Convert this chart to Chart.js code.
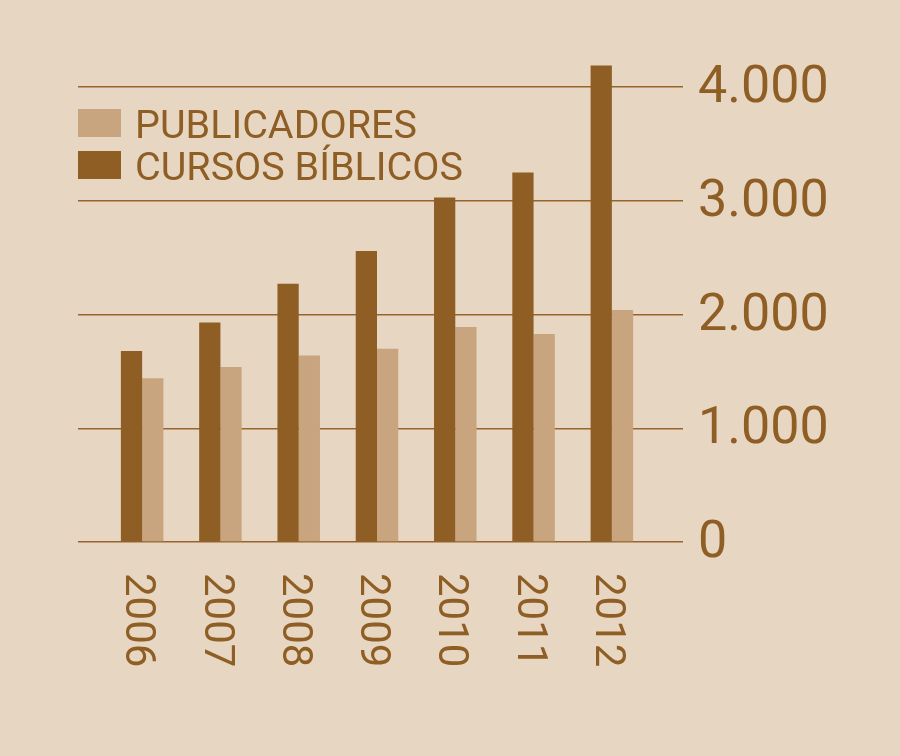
<!DOCTYPE html>
<html>
<head>
<meta charset="utf-8">
<script src="https://cdn.jsdelivr.net/npm/chart.js@4/dist/chart.umd.min.js"></script>
<style>
  html, body { margin: 0; padding: 0; background: #E7D6C2; }
  #wrap { width: 900px; height: 756px; position: relative; }
</style>
</head>
<body>
<div id="wrap"><canvas id="c" width="900" height="756"></canvas></div>
<script>
const years = ['2006', '2007', '2008', '2009', '2010', '2011', '2012'];
const cursosBiblicos = [1680, 1930, 2270, 2560, 3030, 3250, 4190];
const publicadores = [1440, 1540, 1640, 1700, 1890, 1830, 2040];
const yTickValues = [0, 1000, 2000, 3000, 4000];
const yTickLabels = ['0', '1.000', '2.000', '3.000', '4.000'];
const seriesNames = ['CURSOS BÍBLICOS', 'PUBLICADORES'];

const DARK = '#8E5E24';
const LIGHT = '#C8A57F';
const TEXT = '#8E5E24';
const GRID = '#97652B';

const fixTicks = (scale) => { scale.ticks = yTickValues.map(v => ({ value: v })); };

const legendPlugin = {
  id: 'insideLegend',
  afterDraw(chart) {
    const ctx = chart.ctx;
    const ds = chart.data.datasets.slice().reverse();
    ctx.save();
    ctx.font = '39.5px Roboto';
    ctx.textAlign = 'left';
    ctx.textBaseline = 'alphabetic';
    ds.forEach((d, i) => {
      const top = 109 + i * 42;
      ctx.fillStyle = d.backgroundColor;
      ctx.fillRect(78, top, 43, 28);
      ctx.fillStyle = TEXT;
      ctx.fillText(d.label, 135, top + 29.3);
    });
    ctx.restore();
  }
};

const xLabelPlugin = {
  id: 'xLabels',
  afterDraw(chart) {
    const ctx = chart.ctx;
    const xs = chart.scales.x;
    const fs = 42;
    ctx.save();
    ctx.font = fs + 'px Roboto';
    ctx.fillStyle = TEXT;
    ctx.textAlign = 'left';
    ctx.textBaseline = 'alphabetic';
    chart.data.labels.forEach((lab, i) => {
      const cx = xs.getPixelForValue(i) - 1;
      ctx.save();
      ctx.translate(cx, 573);
      ctx.rotate(Math.PI / 2);
      ctx.fillText(lab, 0, 0.355 * fs);
      ctx.restore();
    });
    ctx.restore();
  }
};

new Chart(document.getElementById('c'), {
  type: 'bar',
  data: {
    labels: years,
    datasets: [
      { label: seriesNames[0], data: cursosBiblicos, backgroundColor: DARK, yAxisID: 'y' },
      { label: seriesNames[1], data: publicadores, backgroundColor: LIGHT, yAxisID: 'y' }
    ]
  },
  options: {
    responsive: false,
    animation: false,
    devicePixelRatio: 1,
    layout: { padding: { left: 78, right: 58, top: 30, bottom: 214 } },
    datasets: { bar: { categoryPercentage: 0.543, barPercentage: 1.0, borderWidth: 0 } },
    plugins: { legend: { display: false }, tooltip: { enabled: false } },
    scales: {
      x: { display: false },
      y: {
        position: 'right',
        min: 0, max: 4360,
        afterBuildTicks: fixTicks,
        grid: { color: GRID, lineWidth: 1.5, drawTicks: true, tickLength: 32 },
        border: { display: false },
        ticks: {
          color: TEXT,
          padding: 15,
          labelOffset: 2,
          font: { family: 'Roboto', size: 52 },
          callback: (v) => yTickLabels[yTickValues.indexOf(v)]
        }
      },
      yl: {
        position: 'left',
        min: 0, max: 4360,
        afterBuildTicks: fixTicks,
        grid: { color: GRID, lineWidth: 1.5, drawOnChartArea: false, drawTicks: true, tickLength: 25 },
        border: { display: false },
        ticks: { display: false }
      }
    }
  },
  plugins: [legendPlugin, xLabelPlugin]
});
</script>
</body>
</html>
